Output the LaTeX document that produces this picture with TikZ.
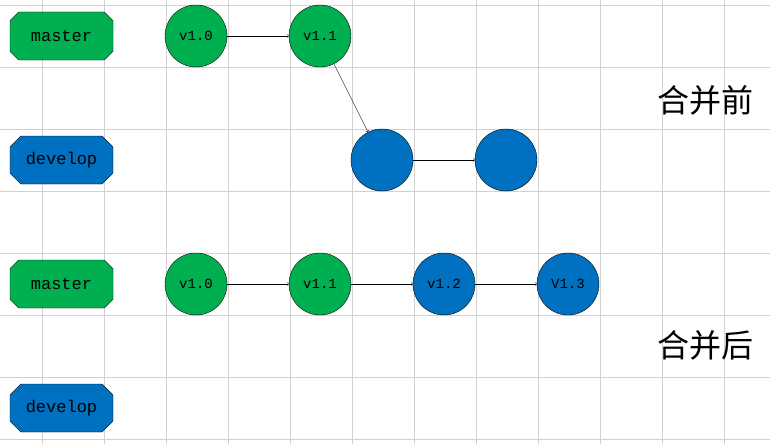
\documentclass[tikz,border=0pt]{standalone}
\usepackage{fontspec}
\setmonofont{Liberation Mono}
\newfontfamily\cjk{Noto Sans CJK SC}
\usetikzlibrary{shapes.misc}
\definecolor{gitgreen}{HTML}{00B050}
\definecolor{gitblue}{HTML}{0070C0}
\tikzset{
	branch/.style={chamfered rectangle, chamfered rectangle xsep=9pt, draw, thin,
		minimum width=103pt, minimum height=48pt, inner sep=0pt,
		font=\ttfamily\fontsize{17}{17}\selectfont},
	commit/.style={circle, draw, thin, minimum size=62pt, inner sep=0pt,
		font=\ttfamily\fontsize{14}{14}\selectfont},
	title/.style={font=\cjk\fontsize{32}{32}\selectfont}
}
\begin{document}
\begin{tikzpicture}[x=1pt, y=-1pt]
	\useasboundingbox (0,0) rectangle (770,444);
	% grid
	\foreach \gx in {42,104,...,770}
		\draw[black!18] (\gx,0) -- (\gx,444);
	\foreach \gy in {5,67,...,444}
		\draw[black!18] (0,\gy) -- (770,\gy);

	% before merge
	\node[branch, fill=gitgreen] (master1) at (61.5,36) {master};
	\node[branch, fill=gitblue] (develop1) at (61.5,160) {develop};
	\node[commit, fill=gitgreen] (a0) at (196,36) {v1.0};
	\node[commit, fill=gitgreen] (a1) at (320,36) {v1.1};
	\node[commit, fill=gitblue] (a2) at (382,160) {};
	\node[commit, fill=gitblue] (a3) at (506,160) {};
	\draw[->] (a0) -- (a1);
	\draw[->] (a1) -- (a2);
	\draw[->] (a2) -- (a3);
	\node[title] (before) at (705,100) {合并前};

	% after merge
	\node[branch, fill=gitgreen] (master2) at (61.5,284) {master};
	\node[branch, fill=gitblue] (develop2) at (61.5,408) {develop};
	\node[commit, fill=gitgreen] (b0) at (196,284) {v1.0};
	\node[commit, fill=gitgreen] (b1) at (320,284) {v1.1};
	\node[commit, fill=gitblue] (b2) at (444,284) {v1.2};
	\node[commit, fill=gitblue] (b3) at (568,284) {V1.3};
	\draw[->] (b0) -- (b1);
	\draw[->] (b1) -- (b2);
	\draw[->] (b2) -- (b3);
	\node[title] (after) at (705,345) {合并后};
\end{tikzpicture}
\end{document}
